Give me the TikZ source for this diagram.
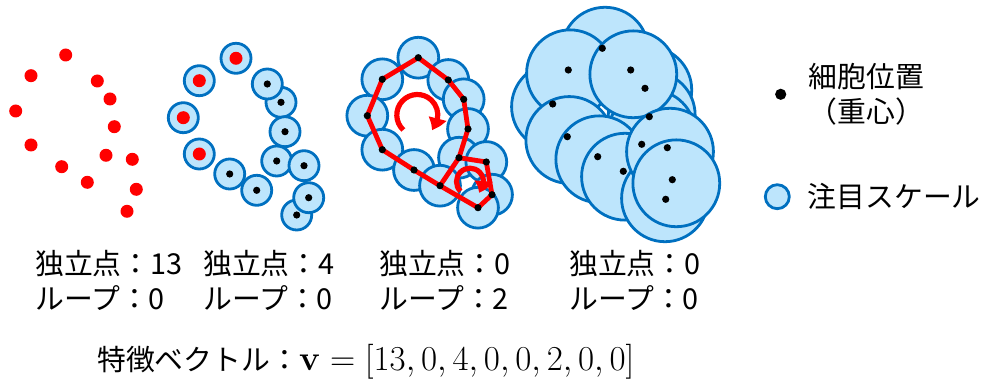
\documentclass[tikz,border=0pt]{standalone}
\usepackage[no-math]{fontspec}
\setmainfont{Noto Sans CJK JP}
\usetikzlibrary{arrows.meta,bending,positioning}
\definecolor{scalefill}{RGB}{189,229,252}
\definecolor{scaleline}{RGB}{0,112,192}

\begin{document}
\begin{tikzpicture}[x=0.025cm, y=-0.025cm,
    reddot/.style={circle, fill=red, inner sep=0pt, minimum size=0.325cm},
    blackdot/.style={circle, fill=black, inner sep=0pt, minimum size=0.18cm},
    smallscale/.style={circle, draw=scaleline, fill=scalefill, line width=0.07cm, inner sep=0pt, minimum size=0.75cm},
    midscale/.style={smallscale, minimum size=1.02cm},
    bigscale/.style={smallscale, minimum size=2.17cm},
    link/.style={red, line width=0.12cm, line join=round},
    turn/.style={red, line width=0.13cm, -{Triangle[length=0.32cm, width=0.44cm, bend]}},
    txt/.style={font=\fontsize{20.5}{25}\selectfont, inner sep=0pt}]
  \useasboundingbox (0,0) rectangle (984,385);

  % Isolated points
  \foreach \x/\y [count=\i] in {65.7/55, 31/75.7, 97.3/81, 110/99, 15.7/111, 114.3/126.7, 31/145,
      106/155.3, 132.3/159.3, 61.7/166.7, 87.3/182.3, 136.3/189.3, 127/211.3}
    \node[reddot] (a\i) at (\x,\y) {};

  % Small scale
  \def\isolated{236/58.3, 199.3/80.7, 183.3/117.7, 199.3/154}
  \def\linked{281/102.3, 267.3/84, 285/131.7, 276.7/161, 304/165.7, 229.7/174, 256.7/190.3,
      296.7/215, 308.7/197.7}
  \foreach \x/\y [count=\i] in \isolated {
    \node[smallscale] (s\i) at (\x,\y) {};
    \node[reddot] (b\i) at (\x,\y) {};
  }
  \foreach \x/\y [count=\i] in \linked
    \node[smallscale] (t\i) at (\x,\y) {};
  \foreach \x/\y [count=\i] in \linked
    \node[blackdot] (c\i) at (\x,\y) {};

  % Medium scale with loops
  \def\loopcells{418.3/57.7, 382.3/79.3, 448.3/80, 463.7/99.3, 367.3/115.7, 468/129, 382.3/149.7,
      459/157.7, 486.3/162, 414/170, 440/185.7, 492/194.7, 478/207.7}
  \foreach \x/\y [count=\i] in \loopcells
    \node[midscale] (q\i) at (\x,\y) {};
  \draw[link] (q1.center) -- (q2.center) -- (q5.center) -- (q7.center) -- (q10.center) -- (q11.center)
    -- (q8.center) -- (q6.center) -- (q4.center) -- (q3.center) -- (q1.center);
  \draw[link] (q8.center) -- (q9.center) -- (q12.center) -- (q13.center) -- (q11.center);
  \foreach \x/\y [count=\i] in \loopcells
    \node[blackdot] (p\i) at (\x,\y) {};
  \coordinate (bigturn) at (417.3,115);
  \coordinate (smallturn) at (470,181.7);
  \draw[turn] ([shift={(133:20.5)}]bigturn) arc[start angle=133, end angle=406, radius=20.5];
  \draw[turn] ([shift={(135:13.5)}]smallturn) arc[start angle=135, end angle=412, radius=13.5];

  % Large scale
  \foreach \x/\y [count=\i] in {605/50.7, 648.3/90, 651.7/115, 555/106.7, 651.7/133.3, 570/73.3,
      633.3/74.3, 569.3/140, 599.3/159.3, 625/176.7, 665/198.3, 670/151.7, 676.3/183.3}
    \node[bigscale] (r\i) at (\x,\y) {};
  \foreach \x/\y [count=\i] in {602.3/48.3, 568.3/70, 630.7/70, 645/88.3, 552.7/104, 649.3/116.7,
      567.3/136.7, 641.7/144.3, 667.3/147.7, 597.7/156.7, 623.3/171.3, 672.3/179.7, 665.7/199.3}
    \node[blackdot] (d\i) at (\x,\y) {};

  % Legend
  \node[blackdot, minimum size=0.28cm] (legdot) at (780.7,94.3) {};
  \node[txt, align=center] (legdottext) at (866.5,94.5) {細胞位置\\（重心）};
  \node[smallscale, minimum size=0.6cm] (legscale) at (777.3,196.7) {};
  \node[txt, right=0.42cm of legscale] (legscaletext) {注目スケール};

  % Counts
  \node[txt, anchor=west, align=left] (count1) at (35,280.5) {独立点：13\\ループ：0};
  \node[txt, anchor=west, align=left] (count2) at (203,280.5) {独立点：4\\ループ：0};
  \node[txt, anchor=west, align=left] (count3) at (379,280.5) {独立点：0\\ループ：2};
  \node[txt, anchor=west, align=left] (count4) at (569,280.5) {独立点：0\\ループ：0};

  % Feature vector
  \node[txt, anchor=west] (vector) at (97,362)
    {特徴ベクトル：{\fontsize{24}{25}\selectfont$\mathbf{v} = [13, 0, 4, 0, 0, 2, 0, 0]$}};
\end{tikzpicture}
\end{document}
